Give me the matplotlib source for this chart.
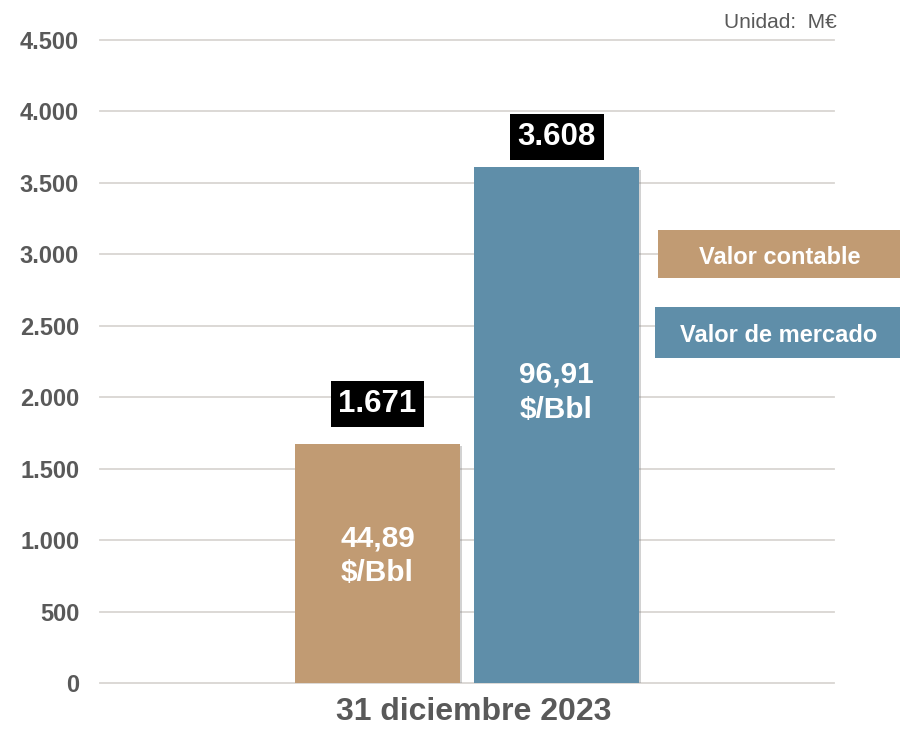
import matplotlib
matplotlib.use("Agg")
import matplotlib.pyplot as plt
from matplotlib.patches import Rectangle
from matplotlib.transforms import ScaledTranslation
import matplotlib.patheffects as pe

# ---- data ----
categories = ["31 diciembre 2023"]
series_names = ["Valor contable", "Valor de mercado"]
values = [1671, 3608]
value_labels = ["1.671", "3.608"]
inner_labels = ["44,89\n$/Bbl", "96,91\n$/Bbl"]
yticks = [0, 500, 1000, 1500, 2000, 2500, 3000, 3500, 4000, 4500]
ytick_labels = ["0", "500", "1.000", "1.500", "2.000", "2.500", "3.000", "3.500", "4.000", "4.500"]
unit_text = "Unidad:  M€"

# ---- style / positions ----
colors = ["#C19B73", "#5F8EA9"]
bar_x = [-0.5, 0.5]
bar_w = 0.92
label_offsets_pt = [29, 22]
inner_label_y = [890, 2035]
grey = "#595959"
grid_c = "#D9D6D2"

plt.rcParams['font.family'] = ['Liberation Sans', 'DejaVu Sans']

W, H = 907, 735
fig = plt.figure(figsize=(W / 100, H / 100), dpi=100)
ax = fig.add_axes([100 / W, 52 / H, 734 / W, (683 - 40) / H])

shadow = [pe.SimplePatchShadow(offset=(1.5, -1.5), shadow_rgbFace="#808080", alpha=0.35), pe.Normal()]
for x, v, c, lab, inner, off, iy in zip(bar_x, values, colors, value_labels, inner_labels,
                                         label_offsets_pt, inner_label_y):
    b = ax.bar(x, v, width=bar_w, color=c, zorder=3)
    for p in b:
        p.set_path_effects(shadow)
    ax.annotate(lab, (x, v), xytext=(0, off), textcoords="offset points",
                ha="center", va="center", fontsize=22.5, fontweight="bold", color="white",
                bbox=dict(boxstyle="square,pad=0.25", fc="black", ec="none"), zorder=5)
    ax.text(x, iy, inner, ha="center", va="center", fontsize=21.5, fontweight="bold",
            color="white", linespacing=1.3, zorder=5)

ax.set_xlim(-2.05, 2.05)
ax.set_ylim(0, 4500)
ax.set_yticks(yticks)
ax.set_yticklabels(ytick_labels)
ax.set_xticks([0])
ax.set_xticklabels(categories)
ax.tick_params(axis="y", length=0, pad=15, labelsize=17, labelcolor=grey)
ax.tick_params(axis="x", length=0, pad=10, labelsize=23, labelcolor=grey)
for t in ax.get_yticklabels() + ax.get_xticklabels():
    t.set_fontweight("bold")
for t in ax.get_xticklabels():
    t.set_transform(t.get_transform() + ScaledTranslation(7 / 100, 0, fig.dpi_scale_trans))

for s in ax.spines.values():
    s.set_visible(False)
for y in yticks:
    ax.axhline(y, color=grid_c, lw=1.3, zorder=1, clip_on=False)

# legend boxes (figure pixel coordinates)
leg_boxes = [(658, 230, 242, 48), (655, 307, 245, 51)]
for (x0, y0, w, h), c, name in zip(leg_boxes, colors, series_names):
    fig.patches.append(Rectangle((x0 / W, 1 - (y0 + h) / H), w / W, h / H,
                                 transform=fig.transFigure, fc=c, ec="none"))
    fig.text((x0 + w / 2 + 1) / W, 1 - (y0 + h / 2 + 3) / H, name, ha="center", va="center",
             fontsize=17, fontweight="bold", color="white")

fig.text(837 / W, 1 - 28 / H, unit_text, ha="right", va="baseline", fontsize=15, color=grey)

fig.savefig("out.png", dpi=100)
